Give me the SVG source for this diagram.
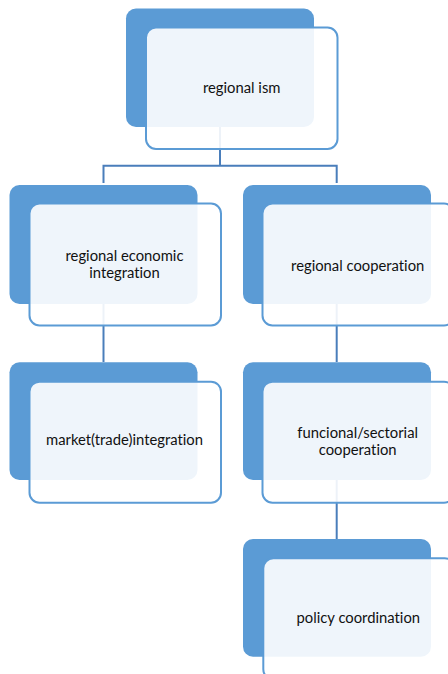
<svg xmlns="http://www.w3.org/2000/svg" width="448" height="674" viewBox="0 0 448 674">
<style>
.back{fill:#5B9BD5}
.front{fill:#FFFFFF;fill-opacity:0.9;stroke:#5B9BD5;stroke-width:2}
.conn{fill:none;stroke:#4A7EBB;stroke-width:2}
text{font-family:Lato,"Open Sans","Liberation Sans",sans-serif;font-size:14.8px;fill:#111111;text-anchor:middle;font-variant-ligatures:none;font-feature-settings:"liga" 0}
</style>
<rect width="448" height="674" fill="#FFFFFF"/>
<g id="connectors">
<path class="conn" d="M220,127 V165.7 M103.5,183 V165.7 H336.7 V183"/>
<path class="conn" d="M103.5,304 V362"/>
<path class="conn" d="M336.7,304 V362"/>
<path class="conn" d="M336.7,480 V539"/>
</g>
<g id="node-regionalism">
<rect class="back" x="126" y="8.5" width="188" height="118.5" rx="10"/>
<rect class="front" x="146" y="27.5" width="191.5" height="121.5" rx="10"/>
<text x="241.7" y="92.5">regional ism</text>
</g>
<g id="node-economic">
<rect class="back" x="9.5" y="185" width="188" height="119" rx="10"/>
<rect class="front" x="29.5" y="203.5" width="191.5" height="122" rx="10"/>
<text x="124.5" y="261">regional economic</text>
<text x="124.5" y="277.5">integration</text>
</g>
<g id="node-cooperation">
<rect class="back" x="243" y="185" width="188" height="119" rx="10"/>
<rect class="front" x="262.5" y="203.5" width="191.5" height="122" rx="10"/>
<text x="357.7" y="270.5">regional cooperation</text>
</g>
<g id="node-market">
<rect class="back" x="9.5" y="362.3" width="188" height="117.7" rx="10"/>
<rect class="front" x="29.5" y="381.7" width="191.5" height="121" rx="10"/>
<text x="124.5" y="445">market(trade)integration</text>
</g>
<g id="node-sectorial">
<rect class="back" x="243" y="362.3" width="188" height="117.7" rx="10"/>
<rect class="front" x="262.5" y="381.7" width="191.5" height="121" rx="10"/>
<text x="357.7" y="438">funcional/sectorial</text>
<text x="357.7" y="454.6">cooperation</text>
</g>
<g id="node-policy">
<rect class="back" x="243" y="539" width="188" height="117.7" rx="10"/>
<rect class="front" x="263.3" y="558.3" width="191.5" height="121" rx="10"/>
<text x="358.3" y="623">policy coordination</text>
</g>
</svg>
